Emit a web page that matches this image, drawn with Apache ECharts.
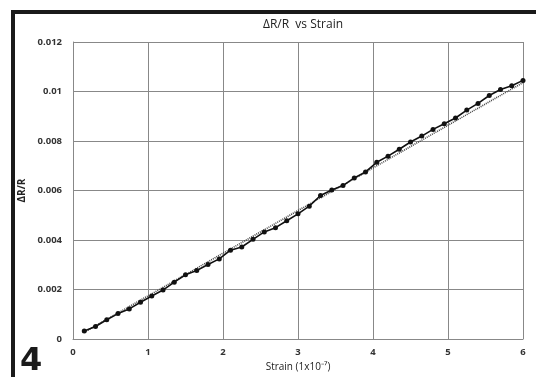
<!DOCTYPE html>
<html>
<head>
<meta charset="utf-8">
<script src="https://cdn.jsdelivr.net/npm/echarts@6/dist/echarts.min.js"></script>
<style>
  html, body { margin: 0; padding: 0; background: #fff; }
  #main { width: 536px; height: 377px; }
</style>
</head>
<body>
<div id="main"></div>
<script>
var strain = [0.15, 0.3, 0.45, 0.6, 0.75, 0.9, 1.05, 1.2, 1.35, 1.5,
  1.65, 1.8, 1.95, 2.1, 2.25, 2.4, 2.55, 2.7, 2.85, 3.0,
  3.15, 3.3, 3.45, 3.6, 3.75, 3.9, 4.05, 4.2, 4.35, 4.5,
  4.65, 4.8, 4.95, 5.1, 5.25, 5.4, 5.55, 5.7, 5.85, 6.0];
var dRR = [0.00033, 0.00051, 0.00078, 0.00103, 0.00122, 0.00149, 0.00174, 0.00198, 0.0023, 0.0026,
  0.00277, 0.00301, 0.00324, 0.00359, 0.00372, 0.00403, 0.00433, 0.0045, 0.00478, 0.00506,
  0.00537, 0.0058, 0.00602, 0.0062, 0.00651, 0.00675, 0.00714, 0.00739, 0.00767, 0.00796,
  0.0082, 0.00847, 0.0087, 0.00893, 0.00925, 0.00952, 0.00984, 0.01008, 0.01023, 0.01045];
// dotted trend line end points
var trendX = [0.15, 6.0];
var trendY = [0.00028, 0.01036];

var pts = strain.map(function (s, i) { return [s, dRR[i]]; });
var trend = trendX.map(function (s, i) { return [s, trendY[i]]; });

var chart = echarts.init(document.getElementById('main'));
var labelFont = { color: '#333', fontFamily: 'Open Sans', fontWeight: 'bold', fontSize: 9.5 };

chart.setOption({
  animation: false,
  title: {
    text: 'ΔR/R  vs Strain',
    left: 298, top: 14, textAlign: 'center',
    textStyle: { fontFamily: 'Open Sans', fontWeight: 'normal', fontSize: 12, color: '#222' }
  },
  grid: { left: 73, right: 13, top: 42, bottom: 36 },
  xAxis: {
    type: 'value', min: 0, max: 6, interval: 1,
    name: 'Strain (1x10⁻⁷)', nameLocation: 'middle', nameGap: 22,
    nameTextStyle: { fontFamily: 'Open Sans', fontSize: 10, color: '#222', fontWeight: 'normal' },
    axisLine: { lineStyle: { color: '#888', width: 1 } },
    axisTick: { show: false },
    axisLabel: Object.assign({ margin: 8 }, labelFont),
    splitLine: { show: true, lineStyle: { color: '#888', width: 1 } }
  },
  yAxis: {
    type: 'value', min: 0, max: 0.012, interval: 0.002,
    name: 'ΔR/R', nameLocation: 'middle', nameGap: 38, nameRotate: 90,
    nameTextStyle: { fontFamily: 'Open Sans', fontSize: 10, color: '#222', fontWeight: 'bold' },
    axisLine: { show: true, lineStyle: { color: '#888', width: 1 } },
    axisTick: { show: false },
    axisLabel: Object.assign({ margin: 11, formatter: function (v) { return String(+v.toFixed(3)); } }, labelFont),
    splitLine: { show: true, lineStyle: { color: '#888', width: 1 } }
  },
  series: [
    {
      type: 'line', data: trend, symbol: 'none', silent: true,
      lineStyle: { color: '#444', width: 1.6, type: [1, 1] }
    },
    {
      type: 'line', data: pts, symbol: 'circle', symbolSize: 5,
      itemStyle: { color: '#111' },
      lineStyle: { color: '#111', width: 1.6 }
    }
  ],
  graphic: [
    { type: 'rect', shape: { x: 11, y: 10, width: 525, height: 4 }, style: { fill: '#1a1a1a' } },
    { type: 'rect', shape: { x: 11, y: 10, width: 4, height: 367 }, style: { fill: '#1a1a1a' } },
    {
      type: 'text', left: 20, top: 346,
      style: { text: '4', fill: '#1a1a1a', font: 'bold 32px "DejaVu Sans"' }
    }
  ]
});
</script>
</body>
</html>
